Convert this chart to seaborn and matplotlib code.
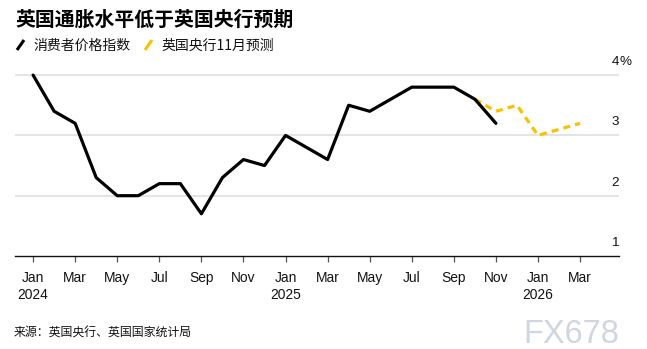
import matplotlib
matplotlib.use("Agg")
import matplotlib.pyplot as plt
from matplotlib.lines import Line2D
import seaborn as sns
import pandas as pd

# Monthly UK CPI (y/y %) Jan 2024 - Nov 2025, and BoE November projection
cpi_months = list(range(0, 23))
cpi_values = [4.0, 3.4, 3.2, 2.3, 2.0, 2.0, 2.2, 2.2, 1.7, 2.3, 2.6, 2.5,
              3.0, 2.8, 2.6, 3.5, 3.4, 3.6, 3.8, 3.8, 3.8, 3.6, 3.2]
boe_months = list(range(21, 27))
boe_values = [3.6, 3.4, 3.5, 3.0, 3.1, 3.2]

tick_months = list(range(0, 27, 2))
tick_labels = ["Jan\n2024", "Mar", "May", "Jul", "Sep", "Nov",
               "Jan\n2025", "Mar", "May", "Jul", "Sep", "Nov",
               "Jan\n2026", "Mar"]
y_ticks = [1, 2, 3, 4]

title = "英国通胀水平低于英国央行预期"
legend_labels = ["消费者价格指数", "英国央行11月预测"]
source = "来源：英国央行、英国国家统计局"

sns.set_theme(style="white")
plt.rcParams["font.family"] = ["Liberation Sans", "Noto Sans CJK SC", "DejaVu Sans"]
cjk = ["Noto Sans CJK SC", "DejaVu Sans"]

BLACK = "#000000"
YELLOW = "#f7c300"
GRID = "#dcdcdc"

W, H = 647, 349
fig = plt.figure(figsize=(W / 100, H / 100), dpi=100)
fig.patch.set_facecolor("white")

ax_left, ax_right = 15, 619
y_lo, y_hi = 1.0, 4.2
px_per_unit = 60.3
ax_bottom_px = 256
ax = fig.add_axes([ax_left / W, 1 - ax_bottom_px / H,
                   (ax_right - ax_left) / W, (y_hi - y_lo) * px_per_unit / H])

cpi_df = pd.DataFrame({"month": cpi_months, "value": cpi_values})
boe_df = pd.DataFrame({"month": boe_months, "value": boe_values})

for v in y_ticks[1:]:
    ax.axhline(v, color=GRID, lw=1.1, zorder=0)

sns.lineplot(data=boe_df, x="month", y="value", ax=ax, color=YELLOW,
             lw=2.3, zorder=2)
ax.lines[-1].set_dashes([2.2, 1.6])
sns.lineplot(data=cpi_df, x="month", y="value", ax=ax, color=BLACK,
             lw=2.3, zorder=3)

ax.set_xlim(-0.86, 27.85)
ax.set_ylim(y_lo, y_hi)
for s in ["top", "right", "left"]:
    ax.spines[s].set_visible(False)
ax.spines["bottom"].set_color("#111111")
ax.spines["bottom"].set_linewidth(1.0)

ax.set_xticks(tick_months)
ax.set_xticklabels(tick_labels, fontsize=9.9, color="#111111",
                   linespacing=1.35)
ax.tick_params(axis="x", direction="out", length=4.5, width=0.9,
               color="#555555", pad=6, bottom=True)
ax.set_yticks([])
ax.set_xlabel("")
ax.set_ylabel("")

# right-hand value labels sitting above each gridline
for v in y_ticks:
    ax.annotate(str(v), xy=(1, v), xycoords=("axes fraction", "data"),
                xytext=(0, 9.3), textcoords="offset points",
                ha="right", va="center", fontsize=9.7, color="#111111")
ax.annotate("%", xy=(1, y_ticks[-1]), xycoords=("axes fraction", "data"),
            xytext=(0, 9.3), textcoords="offset points",
            ha="left", va="center", fontsize=9.7, color="#111111")

# title, legend and source
fig.text(15 / W, 1 - 19 / H, title, family=cjk, fontsize=14.3,
         fontweight="bold", ha="left", va="center", color="#000000")

leg_y = 1 - 45.5 / H
for x0, color, label in [(17, BLACK, legend_labels[0]),
                         (145, YELLOW, legend_labels[1])]:
    fig.add_artist(Line2D([x0 / W, (x0 + 7) / W],
                          [1 - 50 / H, 1 - 40 / H],
                          color=color, lw=2.2, solid_capstyle="butt"))
    fig.text((x0 + 16) / W, leg_y, label, family=cjk, fontsize=10,
             ha="left", va="center", color="#111111")

fig.text(14 / W, 1 - 333 / H, source, family=cjk, fontsize=8.6,
         ha="left", va="center", color="#111111")

fig.text(619 / W, 1 - 331 / H, "FX678", fontsize=23.5, ha="right",
         va="center_baseline", color="#cfd6e0", family=["Liberation Sans"])

fig.savefig("out.png", dpi=100, facecolor="white")
